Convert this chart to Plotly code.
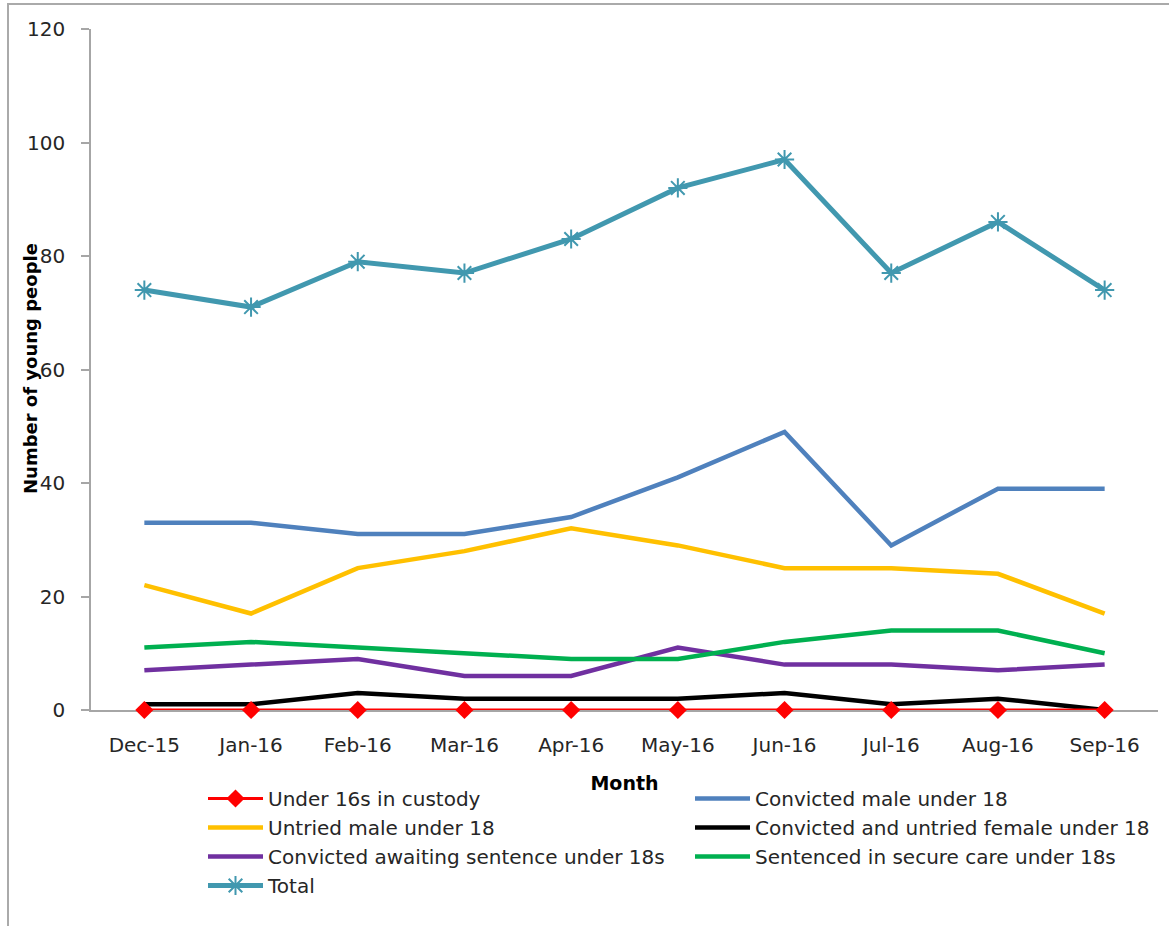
import plotly.graph_objects as go

months = ["Dec-15", "Jan-16", "Feb-16", "Mar-16", "Apr-16", "May-16",
          "Jun-16", "Jul-16", "Aug-16", "Sep-16"]

under16 = [0, 0, 0, 0, 0, 0, 0, 0, 0, 0]
convicted_male = [33, 33, 31, 31, 34, 41, 49, 29, 39, 39]
untried_male = [22, 17, 25, 28, 32, 29, 25, 25, 24, 17]
female = [1, 1, 3, 2, 2, 2, 3, 1, 2, 0]
awaiting = [7, 8, 9, 6, 6, 11, 8, 8, 7, 8]
secure_care = [11, 12, 11, 10, 9, 9, 12, 14, 14, 10]
total = [74, 71, 79, 77, 83, 92, 97, 77, 86, 74]

y_ticks = [0, 20, 40, 60, 80, 100, 120]

FONT = "DejaVu Sans"
TXT = "#262626"

fig = go.Figure()

fig.add_trace(go.Scatter(
    x=months, y=convicted_male, name="Convicted male under 18", mode="lines",
    legendrank=2, line=dict(color="#4F81BD", width=4.5)))
fig.add_trace(go.Scatter(
    x=months, y=untried_male, name="Untried male under 18", mode="lines",
    legendrank=3, line=dict(color="#FFC000", width=4.5)))
fig.add_trace(go.Scatter(
    x=months, y=female, name="Convicted and untried female under 18", mode="lines",
    legendrank=4, line=dict(color="#000000", width=4.5), cliponaxis=False))
fig.add_trace(go.Scatter(
    x=months, y=awaiting, name="Convicted awaiting sentence under 18s", mode="lines",
    legendrank=5, line=dict(color="#7030A0", width=4.5)))
fig.add_trace(go.Scatter(
    x=months, y=secure_care, name="Sentenced in secure care under 18s", mode="lines",
    legendrank=6, line=dict(color="#00B050", width=4.5)))
fig.add_trace(go.Scatter(
    x=months, y=total, name="Total", mode="lines+markers",
    legendrank=7, line=dict(color="#4198AF", width=5),
    marker=dict(symbol="asterisk-open", size=16,
                line=dict(color="#4198AF", width=2))))
fig.add_trace(go.Scatter(
    x=months, y=under16, name="Under 16s in custody", mode="lines+markers",
    legendrank=1, cliponaxis=False,
    line=dict(color="#FF0000", width=3),
    marker=dict(symbol="diamond", size=14, color="#FF0000")))

L, R, T, B = 91, 11, 29, 216
W, H = 1169, 926
pw = W - L - R
ph = H - T - B

fig.update_layout(
    width=W, height=H,
    margin=dict(l=L, r=R, t=T, b=B, autoexpand=False),
    paper_bgcolor="white", plot_bgcolor="white",
    font=dict(family=FONT, size=20, color=TXT),
    showlegend=True,
    legend=dict(
        orientation="h", xref="paper", yref="paper",
        x=(203 - L) / pw, y=(H - B - 779) / ph,
        xanchor="left", yanchor="top",
        itemwidth=55, entrywidth=417, entrywidthmode="pixels",
        font=dict(family=FONT, size=20, color=TXT),
        bgcolor="rgba(0,0,0,0)", traceorder="normal",
    ),
    xaxis=dict(
        type="category", range=[-0.5, 9.5],
        showline=True, linecolor="#A6A6A6", linewidth=1.5,
        ticks="", showgrid=False, zeroline=False, layer="below traces",
        ticklabelstandoff=16,
        tickfont=dict(family=FONT, size=20, color=TXT),
        title=dict(text="<b>Month</b>", font=dict(family=FONT, size=19, color="#000000"),
                   standoff=21),
    ),
    yaxis=dict(
        range=[0, 120], tickvals=y_ticks,
        showline=True, linecolor="#A6A6A6", linewidth=1.5, layer="below traces",
        ticks="outside", ticklen=8, tickcolor="#A6A6A6", tickwidth=1.5,
        ticklabelstandoff=12,
        showgrid=False, zeroline=False,
        tickfont=dict(family=FONT, size=20, color=TXT),
    ),
    annotations=[dict(
        text="<b>Number of young people</b>", textangle=-90,
        xref="paper", yref="paper", x=(30 - L) / pw, y=(H - B - 369) / ph,
        xanchor="center", yanchor="middle", showarrow=False,
        font=dict(family=FONT, size=18, color="#000000"))],
    shapes=[dict(
        type="rect", xref="paper", yref="paper",
        x0=(8 - L) / pw, x1=(W + 20 - L) / pw,
        y0=(H - B - (H + 20)) / ph, y1=(H - B - 4) / ph,
        line=dict(color="#AAAAAA", width=2), fillcolor="rgba(0,0,0,0)",
        layer="below")],
)

fig.write_html("out.html")
